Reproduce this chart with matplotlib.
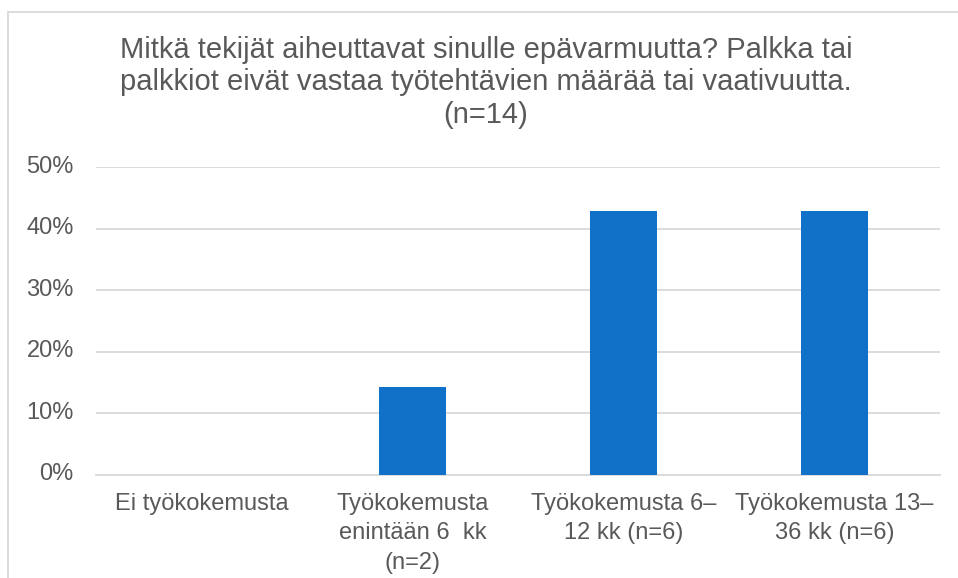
import matplotlib
matplotlib.use("Agg")
import matplotlib.pyplot as plt
from matplotlib.patches import Rectangle
from matplotlib.ticker import FuncFormatter, MultipleLocator

categories = ["Ei työkokemusta", "Työkokemusta\nenintään 6  kk\n(n=2)",
              "Työkokemusta 6–\n12 kk (n=6)", "Työkokemusta 13–\n36 kk (n=6)"]
values = [0.0, 2/14, 6/14, 6/14]
title = ("Mitkä tekijät aiheuttavat sinulle epävarmuutta? Palkka tai\n"
         "palkkiot eivät vastaa työtehtävien määrää tai vaativuutta.\n(n=14)")

plt.rcParams['font.family'] = ['Liberation Sans', 'DejaVu Sans']
W, H = 958, 578
fig = plt.figure(figsize=(W/100, H/100), dpi=100)
txt = '#595959'
ax = fig.add_axes([96/W, 1-474.5/H, (940-96)/W, (474.5-167)/H])
x = range(len(categories))
ax.bar(x, values, width=0.32, color='#1170C8', zorder=3)
ax.set_xlim(-0.5, 3.5)
ax.set_ylim(0, 0.5)
ax.yaxis.set_major_locator(MultipleLocator(0.1))
ax.yaxis.set_major_formatter(FuncFormatter(lambda v, p: f"{v*100:.0f}%"))
ax.grid(axis='y', color='#d9d9d9', linewidth=1.3, zorder=0)
for s in ax.spines.values():
    s.set_visible(False)
ax.spines['bottom'].set_visible(True)
ax.spines['bottom'].set_color('#d9d9d9')
ax.spines['bottom'].set_linewidth(1.3)
ax.set_xticks(list(x))
ax.set_xticklabels(categories, fontsize=17, color=txt, linespacing=1.45)
ax.tick_params(axis='x', length=0, pad=13)
ax.tick_params(axis='y', length=0, pad=16, labelsize=17, labelcolor=txt)
for lab in ax.get_yticklabels():
    lab.set_va('center')

fig.text(486/W, 1-36/H, title, ha='center', va='top', fontsize=21,
         color=txt, linespacing=1.2)
fig.patches.append(Rectangle((8/W, -0.1), 1.1, 1-12/H+0.1, transform=fig.transFigure,
                             fill=False, edgecolor='#d9d9d9', linewidth=1.3))
fig.savefig("out.png", dpi=100)
